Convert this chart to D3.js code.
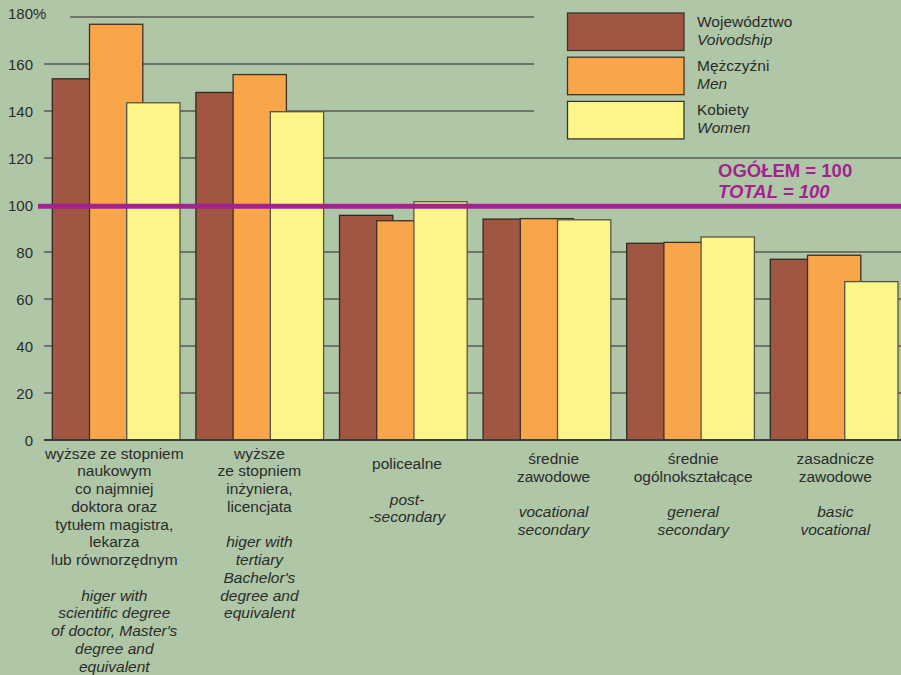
<!DOCTYPE html>
<html>
<head>
<meta charset="utf-8">
<script src="https://cdn.jsdelivr.net/npm/d3@7"></script>
<style>
  html, body { margin: 0; padding: 0; background: #afc7a7; }
  svg { display: block; }
  text { font-family: "Liberation Sans", Arial, Helvetica, sans-serif; fill: #2b2b2b; }
</style>
</head>
<body>
<svg id="chart" width="901" height="675"></svg>
<script>
// ---------------- DATA ----------------
const categoryIds = ["phd", "bachelor", "postsec", "vocsec", "gensec", "basicvoc"];
const categoryLabelsPL = [
  ["wyższe ze stopniem", "naukowym", "co najmniej", "doktora oraz", "tytułem magistra,", "lekarza", "lub równorzędnym"],
  ["wyższe", "ze stopniem", "inżyniera,", "licencjata"],
  ["policealne"],
  ["średnie", "zawodowe"],
  ["średnie", "ogólnokształcące"],
  ["zasadnicze", "zawodowe"]
];
const categoryLabelsEN = [
  ["higer with", "scientific degree", "of doctor, Master's", "degree and", "equivalent"],
  ["higer with", "tertiary", "Bachelor's", "degree and", "equivalent"],
  ["post-", "-secondary"],
  ["vocational", "secondary"],
  ["general", "secondary"],
  ["basic", "vocational"]
];
const seriesNamesPL = ["Województwo", "Mężczyźni", "Kobiety"];
const seriesNamesEN = ["Voivodship", "Men", "Women"];
const voivodship = [153.7, 147.9, 95.6, 94.0, 83.7, 76.9];
const men        = [176.9, 155.5, 93.3, 94.2, 84.1, 78.6];
const women      = [143.5, 139.7, 101.4, 93.7, 86.4, 67.4];
const yTicks = [0, 20, 40, 60, 80, 100, 120, 140, 160, 180];
const yTickLabels = ["0", "20", "40", "60", "80", "100", "120", "140", "160", "180%"];
const totalValue = 100;
const totalLabelPL = "OGÓŁEM = 100";
const totalLabelEN = "TOTAL = 100";

// ---------------- STYLE / LAYOUT ----------------
const colors = ["#a15642", "#f9a54a", "#fef588"];
const strokes = ["#2e2a26", "#3a3128", "#555544"];
const bg = "#afc7a7";
const purple = "#a3228f";
const series = [voivodship, men, women];

const svg = d3.select("#chart");
const W = 901, H = 675;
svg.append("rect").attr("width", W).attr("height", H).attr("fill", bg);

const x = d3.scaleBand().domain(categoryIds).range([44, 905.6]).paddingInner(0).paddingOuter(0);
const xSub = d3.scaleBand().domain([0, 1, 2]).range([8.3, 8.3 + 37.2 * 3]).padding(0);
const barW = xSub.bandwidth() * 1.433;
const y = d3.scaleLinear().domain([0, 180]).range([440, 17]);

// gridlines
const grid = svg.append("g");
grid.selectAll("line").data(yTicks.filter(d => d > 0)).join("line")
  .attr("x1", d => d === 180 ? 70 : 44)
  .attr("x2", W)
  .attr("y1", d => y(d)).attr("y2", d => y(d))
  .attr("stroke", "#575a55").attr("stroke-width", 1.4);

// legend background covers gridlines at the top right
svg.append("rect").attr("x", 534).attr("y", 0).attr("width", W - 534).attr("height", 150).attr("fill", bg);

// y axis labels via d3 axis
const yAxis = d3.axisLeft(y).tickValues(yTicks)
  .tickFormat((d, i) => yTickLabels[i]).tickSize(0).tickPadding(0);
const yg = svg.append("g").attr("transform", "translate(33,0)").call(yAxis);
yg.select(".domain").remove();
yg.selectAll("text")
  .attr("font-size", 15)
  .attr("fill", "#2b2b2b")
  .attr("font-family", "Liberation Sans, Arial, sans-serif")
  .attr("dx", (d) => d === 180 ? 13.4 : 0)
  .attr("dy", (d) => d === 180 ? "0.12em" : "0.36em");

// bars
const groups = svg.append("g").selectAll("g").data(categoryIds).join("g")
  .attr("transform", d => `translate(${x(d)},0)`);
groups.each(function(cat, ci) {
  const g = d3.select(this);
  series.forEach((vals, si) => {
    g.append("rect")
      .attr("x", xSub(si))
      .attr("y", y(vals[ci]))
      .attr("width", barW)
      .attr("height", y(0) - y(vals[ci]))
      .attr("fill", colors[si])
      .attr("stroke", strokes[si])
      .attr("stroke-width", 1.3);
  });
});

// baseline
svg.append("line").attr("x1", 44).attr("x2", W).attr("y1", y(0)).attr("y2", y(0))
  .attr("stroke", "#3a3a36").attr("stroke-width", 1.8);

// total line
svg.append("line").attr("x1", 38).attr("x2", W).attr("y1", y(totalValue) + 1.2).attr("y2", y(totalValue) + 1.2)
  .attr("stroke", purple).attr("stroke-width", 5);
svg.append("text").attr("x", 718).attr("y", 177).text(totalLabelPL)
  .attr("font-size", 18.5).attr("font-weight", "bold").style("fill", purple);
svg.append("text").attr("x", 718).attr("y", 197.5).text(totalLabelEN)
  .attr("font-size", 18.5).attr("font-weight", "bold").attr("font-style", "italic").style("fill", purple);

// legend
const lg = svg.append("g");
seriesNamesPL.forEach((name, i) => {
  const top = 13 + i * 44.2;
  lg.append("rect").attr("x", 567.5).attr("y", top).attr("width", 116.5).attr("height", 37.5)
    .attr("fill", colors[i]).attr("stroke", "#3a3530").attr("stroke-width", 1.3);
  lg.append("text").attr("x", 697).attr("y", top + 14).text(name).attr("font-size", 15.5);
  lg.append("text").attr("x", 697).attr("y", top + 31.5).text(seriesNamesEN[i])
    .attr("font-size", 15.5).attr("font-style", "italic");
});

// category labels
const lineH = 17.75;
const startBaseline = [458.5, 458.5, 469, 464, 464, 464];
const labelDx = [-1.5, 0, 4, 7, 3, 1.5];
categoryIds.forEach((cat, ci) => {
  const cx = x(cat) + x.bandwidth() / 2 + labelDx[ci];
  const t = svg.append("text").attr("text-anchor", "middle").attr("font-size", 15.5);
  const pl = categoryLabelsPL[ci], en = categoryLabelsEN[ci];
  pl.forEach((ln, li) => {
    t.append("tspan").attr("x", cx).attr("y", startBaseline[ci] + li * lineH).text(ln);
  });
  en.forEach((ln, li) => {
    t.append("tspan").attr("x", cx).attr("y", startBaseline[ci] + (pl.length + 1 + li) * lineH)
      .attr("font-style", "italic").text(ln);
  });
});
</script>
</body>
</html>
